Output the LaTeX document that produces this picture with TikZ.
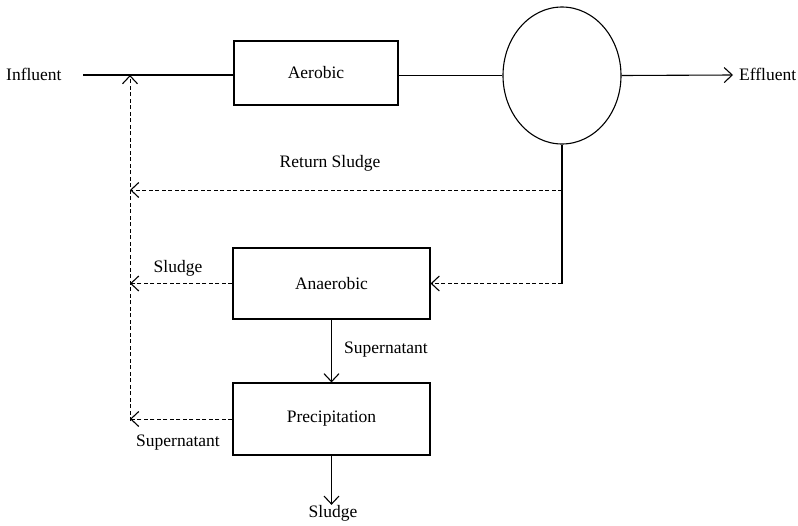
\documentclass[tikz,border=0pt]{standalone}
\usepackage{fontspec}
\setmainfont{Liberation Serif}
\usetikzlibrary{arrows.meta,shapes.geometric}
\begin{document}
\begin{tikzpicture}[x=1pt,y=-1pt,
  unit/.style={draw, line width=1.1pt, inner sep=0pt, font=\fontsize{17.5}{20}\selectfont},
  flow/.style={line width=1.1pt},
  recycle/.style={dash pattern=on 4pt off 2.5pt, line width=1pt},
  tip/.style={-{Straight Barb[length=8pt,width=15pt,line width=1.1pt]}},
  lbl/.style={inner sep=0pt, font=\fontsize{17.5}{20}\selectfont}]
\useasboundingbox (0,0) rectangle (798,525);

% process units
\node[unit, minimum width=164, minimum height=64] (aer) at (316,73) {Aerobic};
\node[draw, ellipse, line width=1.1pt, minimum width=118, minimum height=137] (clar) at (562,75.5) {};
\node[unit, minimum width=197, minimum height=71] (ana) at (331.5,283.5) {Anaerobic};
\node[unit, minimum width=197, minimum height=72] (pre) at (331.5,419) {Precipitation};

% stream labels
\node[lbl, anchor=west] (inf) at (6,74) {Influent};
\node[lbl, anchor=west] (eff) at (739,74) {Effluent};
\node[lbl] (rsl) at (330,163) {Return Sludge};
\node[lbl] (asl) at (178,268) {Sludge};
\node[lbl, anchor=west] (sup1) at (344,350) {Supernatant};
\node[lbl] (sup2) at (178,443) {Supernatant};
\node[lbl] (psl) at (333,513) {Sludge};

% junction points
\coordinate (in0) at (83,75);
\coordinate (jn) at (130,75);
\coordinate (busB) at (130,421);
\coordinate (rs) at (562,190);
\coordinate (effend) at (733,75);

% main line
\draw[flow] (in0) -- (in0 -| aer.west);
\draw[flow] (aer.east |- clar.west) -- (clar.west);
\draw[flow,tip] (clar.east) -- (effend);

% sludge return and side streams
\draw[flow] (clar.south) -- (clar.south |- ana.east);
\draw[recycle,tip] (clar.south |- ana.east) -- (ana.east);
\draw[recycle,tip] (rs) -- (rs -| jn);
\draw[recycle,tip] (busB) -- (jn);
\draw[recycle,tip] (ana.west) -- (ana.west -| jn);
\draw[recycle,tip] (pre.west) -- (pre.west -| jn);
\draw[flow,tip] (ana.south) -- (pre.north);
\draw[flow,tip] (pre.south) -- (pre.south |- psl.north);
\end{tikzpicture}
\end{document}
